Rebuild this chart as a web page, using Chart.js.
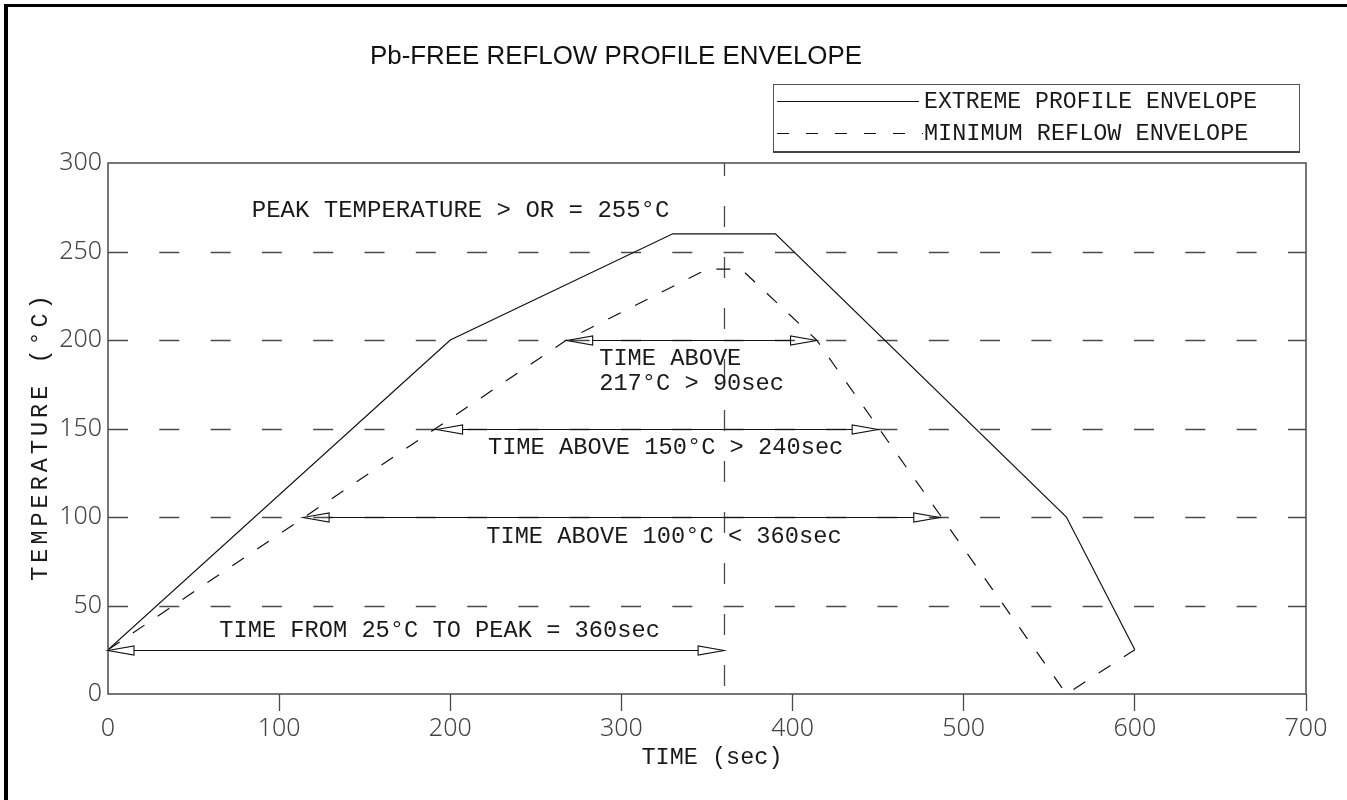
<!DOCTYPE html>
<html><head><meta charset="utf-8">
<script src="https://cdn.jsdelivr.net/npm/chart.js@4.4.1/dist/chart.umd.min.js"></script>
<style>html,body{margin:0;padding:0;background:#fff}#wrap{width:1347px;height:800px;position:relative}</style>
</head><body><div id="wrap"><canvas id="c" width="1347" height="800"></canvas></div>
<script>
// ---- data ----
const X_TICKS = [0, 100, 200, 300, 400, 500, 600, 700];
const Y_TICKS = [0, 50, 100, 150, 200, 250, 300];
const GRID_Y = [50, 100, 150, 200, 250];
const EXTREME_TIME = [0, 200, 330, 390, 560, 600];
const EXTREME_TEMP = [25, 200, 260, 260, 100, 25];
const MIN_TIME = [0, 268, 350, 370, 414, 560, 600];
const MIN_TEMP = [25, 200, 240, 240, 200, 0, 25];
const PEAK_TIME = 360;
const ARROW_TEMP = [25, 100, 150, 200];
const ARROW_FROM = [0, 114, 192, 268];
const ARROW_TO = [360, 486, 450, 414];
const SERIES_NAMES = ['EXTREME PROFILE ENVELOPE', 'MINIMUM REFLOW ENVELOPE'];
const TITLE = 'Pb-FREE REFLOW PROFILE ENVELOPE';
const X_TITLE = 'TIME (sec)';
const Y_TITLE = 'TEMPERATURE (°C)';
const NOTE_TEXTS = ['PEAK TEMPERATURE > OR = 255°C', 'TIME ABOVE', '217°C > 90sec',
  'TIME ABOVE 150°C > 240sec', 'TIME ABOVE 100°C < 360sec', 'TIME FROM 25°C TO PEAK = 360sec'];
// note anchors in data units (time, temperature): left edge / baseline
const NOTE_AT_TIME = [84, 287, 287, 222, 221, 65];
const NOTE_AT_TEMP = [269.5, 186, 172, 135.6, 85.3, 32.2];

const toXY = (xs, ys) => xs.map((v, i) => ({x: v, y: ys[i]}));
const MONO = '"Liberation Mono", "DejaVu Sans Mono", monospace';

const overlay = {
  id: 'overlay',
  beforeDatasetsDraw(chart) {
    const {ctx, chartArea: a, scales: {x, y}} = chart;
    ctx.save();
    ctx.strokeStyle = '#4a4a4a';
    ctx.lineWidth = 1.3;
    ctx.setLineDash([20, 31.3]);
    GRID_Y.forEach(v => {
      const py = Math.round(y.getPixelForValue(v)) + 0.5;
      ctx.beginPath(); ctx.moveTo(a.left, py); ctx.lineTo(a.right, py); ctx.stroke();
    });
    ctx.setLineDash([21, 30]);
    ctx.lineDashOffset = 8;
    const px = Math.round(x.getPixelForValue(PEAK_TIME)) + 0.5;
    ctx.beginPath(); ctx.moveTo(px, a.top); ctx.lineTo(px, a.bottom); ctx.stroke();
    ctx.restore();
  },
  afterDatasetsDraw(chart) {
    const {ctx, chartArea: a, scales: {x, y}} = chart;
    ctx.save();
    // plot frame
    ctx.strokeStyle = '#4a4a4a'; ctx.lineWidth = 1.5; ctx.setLineDash([]);
    ctx.strokeRect(a.left, a.top, a.right - a.left, a.bottom - a.top);
    // arrows
    ctx.strokeStyle = '#111'; ctx.lineWidth = 1.1;
    const L = 26, H = 4.5;
    ARROW_TEMP.forEach((t, i) => {
      const py = Math.round(y.getPixelForValue(t)) + 0.5;
      const x1 = x.getPixelForValue(ARROW_FROM[i]);
      const x2 = x.getPixelForValue(ARROW_TO[i]);
      ctx.beginPath(); ctx.moveTo(x1 + L, py); ctx.lineTo(x2 - L, py); ctx.stroke();
      ctx.beginPath(); ctx.moveTo(x1, py); ctx.lineTo(x1 + L, py - H); ctx.lineTo(x1 + L, py + H); ctx.closePath(); ctx.stroke();
      ctx.beginPath(); ctx.moveTo(x2, py); ctx.lineTo(x2 - L, py - H); ctx.lineTo(x2 - L, py + H); ctx.closePath(); ctx.stroke();
    });
    // notes
    ctx.fillStyle = '#1a1a1a';
    ctx.textBaseline = 'alphabetic'; ctx.textAlign = 'left';
    NOTE_TEXTS.forEach((t, i) => {
      ctx.font = (i === 0 ? '24px ' : '23.7px ') + MONO;
      ctx.fillText(t, x.getPixelForValue(NOTE_AT_TIME[i]), y.getPixelForValue(NOTE_AT_TEMP[i]));
    });
    // axis titles
    ctx.font = '23.5px ' + MONO;
    ctx.textAlign = 'center';
    ctx.fillText(X_TITLE, (a.left + a.right) / 2 + 5, a.bottom + 70);
    ctx.save();
    ctx.translate(47, 436);
    ctx.rotate(-Math.PI / 2);
    ctx.letterSpacing = '4px';
    ctx.fillText(Y_TITLE, 0, 0);
    ctx.letterSpacing = '0px';
    ctx.restore();
    // chart title
    ctx.font = '26px "Liberation Sans", Arial, sans-serif';
    ctx.textAlign = 'left';
    ctx.fillStyle = '#111';
    ctx.fillText(TITLE, 370, 64, 492);
    // legend
    ctx.strokeStyle = '#555'; ctx.lineWidth = 1;
    ctx.strokeRect(773.5, 84.5, 526, 67);
    ctx.lineWidth = 2; ctx.strokeStyle = '#444';
    ctx.beginPath(); ctx.moveTo(773, 152); ctx.lineTo(1300, 152); ctx.stroke();
    ctx.strokeStyle = '#111'; ctx.lineWidth = 1.1;
    ctx.beginPath(); ctx.moveTo(777, 101.5); ctx.lineTo(919, 101.5); ctx.stroke();
    ctx.setLineDash([12, 17]);
    ctx.beginPath(); ctx.moveTo(777, 133.5); ctx.lineTo(923, 133.5); ctx.stroke();
    ctx.setLineDash([]);
    ctx.font = '23.5px ' + MONO;
    ctx.fillStyle = '#1a1a1a';
    ctx.fillText(SERIES_NAMES[0], 924, 108, 333);
    ctx.fillText(SERIES_NAMES[1], 924, 140, 331);
    // outer frame (top and left)
    ctx.fillStyle = '#000';
    ctx.fillRect(4, 4, 1343, 3);
    ctx.fillRect(4, 4, 4, 796);
    ctx.restore();
  }
};

new Chart(document.getElementById('c'), {
  type: 'scatter',
  data: {
    datasets: [
      {label: SERIES_NAMES[0], data: toXY(EXTREME_TIME, EXTREME_TEMP), showLine: true,
       borderColor: '#111', borderWidth: 1.2, pointRadius: 0, tension: 0},
      {label: SERIES_NAMES[1], data: toXY(MIN_TIME, MIN_TEMP), showLine: true,
       borderColor: '#111', borderWidth: 1.2, borderDash: [14, 16], pointRadius: 0, tension: 0}
    ]
  },
  options: {
    responsive: false, animation: false, devicePixelRatio: 1,
    layout: {padding: {top: 163, right: 41, left: 0, bottom: 0}},
    plugins: {legend: {display: false}, title: {display: false}, tooltip: {enabled: false}},
    scales: {
      x: {
        type: 'linear', min: 0, max: 700,
        afterBuildTicks: s => { s.ticks = X_TICKS.map(v => ({value: v})); },
        afterFit: s => { s.height = 106; },
        border: {display: false},
        grid: {drawOnChartArea: false, drawTicks: true, tickLength: 17, tickWidth: 1.3,
               tickColor: c => (c.tick && c.tick.value === 0) ? 'rgba(0,0,0,0)' : '#4a4a4a'},
        ticks: {padding: 3, color: '#444', font: {family: '"Noto Sans", sans-serif', size: 25, weight: '300'}}
      },
      y: {
        type: 'linear', min: 0, max: 300,
        afterBuildTicks: s => { s.ticks = Y_TICKS.map(v => ({value: v})); },
        afterFit: s => { s.width = 108; },
        border: {display: false},
        grid: {drawOnChartArea: false, drawTicks: false},
        ticks: {padding: 6, color: '#444', font: {family: '"Noto Sans", sans-serif', size: 25, weight: '300'}}
      }
    }
  },
  plugins: [overlay]
});
</script></body></html>
